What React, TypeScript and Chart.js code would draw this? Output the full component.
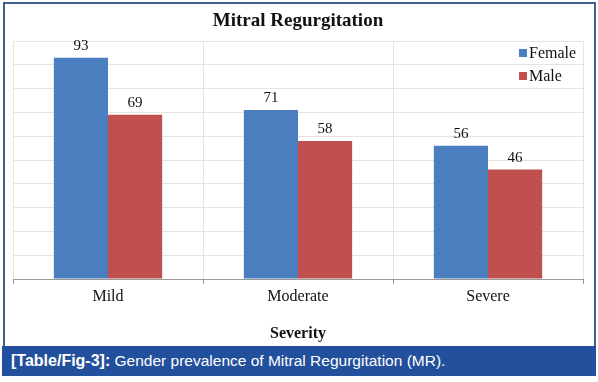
import React, { useEffect, useRef } from "react";
import { Chart, registerables } from "chart.js";

Chart.register(...registerables);

const chartTitle = "Mitral Regurgitation";
const axisTitle = "Severity";
const categories = ["Mild", "Moderate", "Severe"];
const seriesNames = ["Female", "Male"];
const femaleValues = [93, 71, 56];
const maleValues = [69, 58, 46];
const seriesColors = ["#4A7EBF", "#C0504D"];
const yMin = 0;
const yMax = 100;
const yStep = 10;
const captionLabel = "[Table/Fig-3]:";
const captionText = " Gender prevalence of Mitral Regurgitation (MR).";

const SERIF = '"Liberation Serif", "Times New Roman", serif';
const SANS = '"Liberation Sans", Arial, Helvetica, sans-serif';

const dataLabelPlugin = {
  id: "dataLabels",
  afterDatasetsDraw(chart: any) {
    const ctx = chart.ctx;
    ctx.save();
    ctx.font = `15px ${SERIF}`;
    ctx.fillStyle = "#111111";
    ctx.textAlign = "center";
    ctx.textBaseline = "alphabetic";
    chart.data.datasets.forEach((ds: any, i: number) => {
      const meta = chart.getDatasetMeta(i);
      meta.data.forEach((bar: any, j: number) => {
        ctx.fillText(String(ds.data[j]), bar.x, bar.y - 8);
      });
    });
    ctx.restore();
  },
};

const customLegendPlugin = {
  id: "customLegend",
  afterDraw(chart: any) {
    const ctx = chart.ctx;
    const area = chart.chartArea;
    ctx.save();
    ctx.font = `16px ${SERIF}`;
    ctx.textAlign = "left";
    ctx.textBaseline = "middle";
    chart.data.datasets.forEach((ds: any, i: number) => {
      const cy = area.top + 12 + i * 23;
      const sx = area.right - 64;
      ctx.fillStyle = ds.backgroundColor;
      ctx.fillRect(sx, cy - 4, 8, 8);
      ctx.fillStyle = "#111111";
      ctx.fillText(ds.label, sx + 10, cy + 1);
    });
    ctx.restore();
  },
};

export default function App() {
  const canvasRef = useRef<HTMLCanvasElement | null>(null);

  useEffect(() => {
    if (!canvasRef.current) return;
    const chart = new Chart(canvasRef.current, {
      type: "bar",
      data: {
        labels: categories,
        datasets: [
          {
            label: seriesNames[0],
            data: femaleValues,
            backgroundColor: seriesColors[0],
            borderWidth: 0,
          },
          {
            label: seriesNames[1],
            data: maleValues,
            backgroundColor: seriesColors[1],
            borderWidth: 0,
          },
        ],
      },
      options: {
        responsive: false,
        animation: false,
        devicePixelRatio: 1,
        layout: { padding: { left: 13, right: 15, top: 0, bottom: 0 } },
        datasets: {
          bar: { categoryPercentage: 0.57, barPercentage: 1.0 },
        },
        plugins: {
          legend: { display: false },
          tooltip: { enabled: false },
          title: {
            display: true,
            text: chartTitle,
            color: "#111111",
            font: { family: SERIF, size: 19, weight: "bold", lineHeight: 1.2 },
            padding: { top: 10, bottom: 8.2 },
          },
        },
        scales: {
          x: {
            grid: {
              display: true,
              offset: true,
              color: "#E8E4DA",
              tickColor: "#9A9A9A",
              tickLength: 5,
              drawTicks: true,
            },
            border: { display: true, color: "#9A9A9A", width: 1 },
            ticks: {
              color: "#111111",
              padding: 3,
              font: { family: SERIF, size: 16, lineHeight: 1.2 },
            },
            title: {
              display: true,
              text: axisTitle,
              color: "#111111",
              font: { family: SERIF, size: 16, weight: "bold", lineHeight: 1.2 },
              padding: { top: 15.2, bottom: 2.4 },
            },
          },
          y: {
            min: yMin,
            max: yMax,
            grid: { display: true, color: "#E8E4DA", drawTicks: false },
            border: { display: false },
            ticks: { display: false, stepSize: yStep },
          },
        },
      },
      plugins: [dataLabelPlugin, customLegendPlugin],
    });
    return () => chart.destroy();
  }, []);

  return (
    <div
      style={{
        position: "absolute",
        left: 0,
        top: 0,
        width: 598,
        height: 382,
        background: "#ffffff",
        overflow: "hidden",
      }}
    >
      <canvas
        ref={canvasRef}
        width={598}
        height={346}
        style={{ position: "absolute", left: 0, top: 0, width: 598, height: 346 }}
      />
      <div
        style={{
          position: "absolute",
          left: 3,
          top: 2,
          width: 589,
          height: 342,
          border: "2px solid #42608F",
          pointerEvents: "none",
        }}
      />
      <div
        style={{
          position: "absolute",
          left: 2,
          top: 346,
          width: 594,
          height: 30,
          background: "#23509C",
          color: "#FFFFFF",
          fontFamily: SANS,
          fontSize: 15.5,
          lineHeight: "30px",
          paddingLeft: 9,
          boxSizing: "border-box",
          whiteSpace: "nowrap",
        }}
      >
        <span style={{ fontWeight: "bold", fontSize: 16 }}>{captionLabel}</span>
        <span>{captionText}</span>
      </div>
    </div>
  );
}
